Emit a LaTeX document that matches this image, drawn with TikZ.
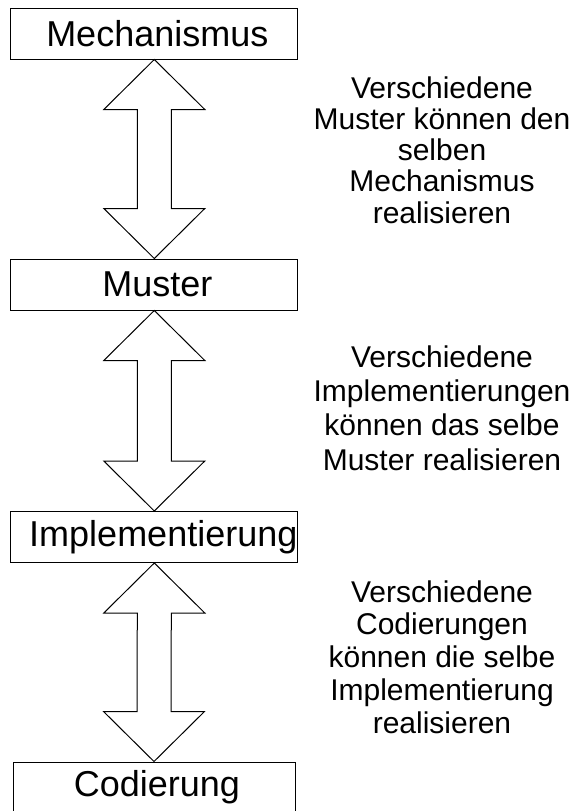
\documentclass[tikz,border=0pt]{standalone}
\usepackage{fontspec}
\setmainfont{Liberation Sans}
\usetikzlibrary{calc}
\newcommand{\dblarrow}[2]{%
  \draw (#1.south) -- ++(50.5,50) -- ++(-33.5,0) -- ($(#2.north)+(17,-50)$) -- ++(33.5,0)
    -- (#2.north) -- ++(-50.5,-50) -- ++(33.5,0) -- ($(#1.south)+(-17,50)$) -- ++(-33.5,0) -- cycle;}

\begin{document}
\begin{tikzpicture}[x=1pt,y=-1pt,line width=1pt,
    ebene/.style={draw,minimum width=287pt,minimum height=51pt,inner sep=0pt,
      font=\fontsize{36}{40}\selectfont,execute at begin node=\hspace*{6pt}},
    erklaerung/.style={align=center,anchor=north,inner sep=0pt}]
  \useasboundingbox (0,0) rectangle (578,811);
  \node[ebene] (mech) at (154.3,33.5) {Mechanismus};
  \node[ebene] (must) at (154.3,284.5) {Muster};
  \node[ebene,execute at begin node=\hspace*{12pt}] (impl) at (154.3,537) {Implementierung};
  \node[ebene,minimum width=282pt,minimum height=50pt] (cod) at (154,787) {Codierung};
  \dblarrow{mech}{must}
  \dblarrow{must}{impl}
  \dblarrow{impl}{cod}
  \node[erklaerung,font=\fontsize{30}{31.25}\selectfont] (text1) at (442,76)
    {Verschiedene\\Muster können den\\selben\\Mechanismus\\realisieren};
  \node[erklaerung,font=\fontsize{30}{34.3}\selectfont] (text2) at (442,345)
    {Verschiedene\\Implementierungen\\können das selbe\\Muster realisieren};
  \node[erklaerung,font=\fontsize{30}{32.75}\selectfont] (text3) at (442,580)
    {Verschiedene\\Codierungen\\können die selbe\\Implementierung\\realisieren};
\end{tikzpicture}
\end{document}
